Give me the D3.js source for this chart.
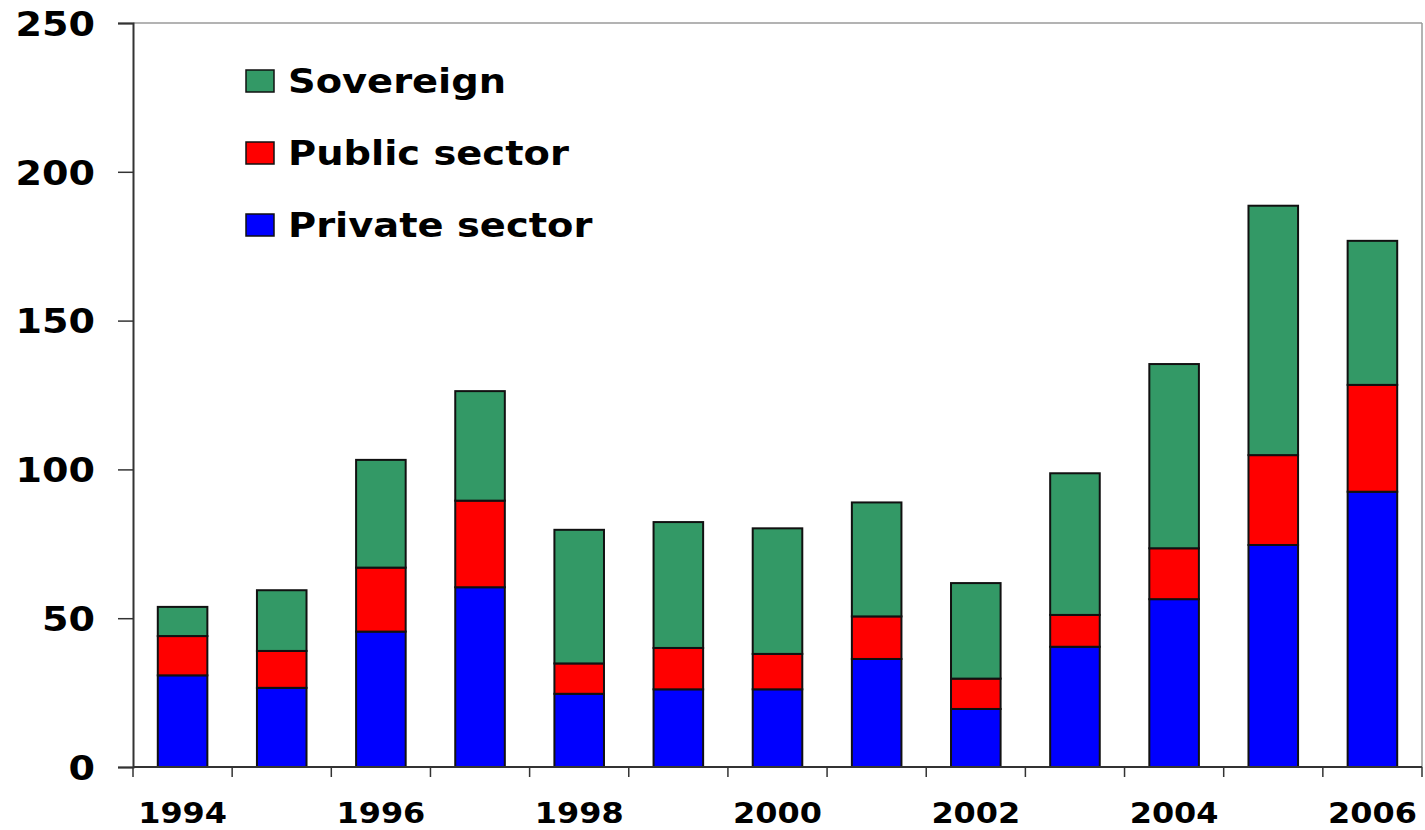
<!DOCTYPE html>
<html>
<head>
<meta charset="utf-8">
<script src="https://cdn.jsdelivr.net/npm/d3@7"></script>
<style>
  html, body { margin: 0; padding: 0; background: #fff; }
  svg { display: block; }
  text { font-family: "DejaVu Sans", Verdana, sans-serif; font-weight: bold; fill: #000; }
</style>
</head>
<body>
<svg id="chart" width="1425" height="830"></svg>
<script>
const years = ["1994","1995","1996","1997","1998","1999","2000","2001","2002","2003","2004","2005","2006"];
const privateSector = [30.8, 26.6, 45.5, 60.4, 24.6, 26.1, 26.1, 36.3, 19.5, 40.4, 56.4, 74.6, 92.5];
const publicSector  = [13.2, 12.4, 21.5, 29.1, 10.2, 13.9, 11.9, 14.3, 10.2, 10.7, 17.1, 30.2, 35.9];
const sovereign     = [ 9.8, 20.4, 36.2, 36.8, 44.9, 42.3, 42.2, 38.3, 32.1, 47.6, 61.9, 83.8, 48.4];
const seriesNames = ["Private sector", "Public sector", "Sovereign"];
const seriesColors = ["#0000FF", "#FF0000", "#339966"];
const yTicks = [0, 50, 100, 150, 200, 250];
const xLabelYears = ["1994","1996","1998","2000","2002","2004","2006"];

(function () {
const svg = d3.select("#chart");
const pLeft = 133, pRight = 1422, pTop = 23, pBottom = 767;
const stretch = 1.1;

const x = d3.scaleBand().domain(years).range([pLeft, pRight]).paddingInner(0.5).paddingOuter(0.25);
const y = d3.scaleLinear().domain([0, 250]).range([pBottom, pTop]);

const rows = years.map((yr, i) => ({
  year: yr,
  "Private sector": privateSector[i],
  "Public sector": publicSector[i],
  "Sovereign": sovereign[i]
}));
const stacked = d3.stack().keys(seriesNames)(rows);

// plot frame (light top/right border)
svg.append("line").attr("x1", pLeft).attr("x2", pRight).attr("y1", pTop).attr("y2", pTop)
  .attr("stroke", "#9a9a9a").attr("stroke-width", 1.5);
svg.append("line").attr("x1", pRight).attr("x2", pRight).attr("y1", pTop).attr("y2", pBottom)
  .attr("stroke", "#9a9a9a").attr("stroke-width", 1.5);

// bars
stacked.forEach((s, si) => {
  svg.append("g").selectAll("rect").data(s).join("rect")
    .attr("x", d => x(d.data.year))
    .attr("width", x.bandwidth())
    .attr("y", d => y(d[1]))
    .attr("height", d => y(d[0]) - y(d[1]))
    .attr("fill", seriesColors[si])
    .attr("stroke", "#111")
    .attr("stroke-width", 2);
});

// y axis
const yAxis = svg.append("g").attr("transform", `translate(${pLeft},0)`)
  .call(d3.axisLeft(y).tickValues(yTicks).tickSize(15).tickPadding(23).tickFormat(d3.format("d")));
yAxis.select(".domain").attr("stroke", "#333").attr("stroke-width", 2);
yAxis.selectAll(".tick line").attr("stroke", "#333").attr("stroke-width", 1.5);
yAxis.selectAll(".tick text")
  .attr("font-size", 34)
  .attr("dy", "0.36em")
  .each(function() {
    const t = d3.select(this);
    const tx = +t.attr("x");
    t.attr("x", null).attr("transform", `translate(${tx},0) scale(1.12,1)`);
  });

// x axis line
svg.append("line").attr("x1", pLeft).attr("x2", pRight).attr("y1", pBottom).attr("y2", pBottom)
  .attr("stroke", "#333").attr("stroke-width", 2);
// x ticks at band boundaries
const step = x.step();
const gap = (step - x.bandwidth()) / 2;
const boundaries = years.map(yr => x(yr) - gap).concat([x(years[years.length - 1]) + x.bandwidth() + gap]);
svg.append("g").selectAll("line").data(boundaries).join("line")
  .attr("x1", d => d).attr("x2", d => d)
  .attr("y1", pBottom).attr("y2", pBottom + 10)
  .attr("stroke", "#333").attr("stroke-width", 1.5);
// x labels
svg.append("g").selectAll("text").data(xLabelYears).join("text")
  .attr("text-anchor", "middle")
  .attr("font-size", 28)
  .attr("transform", d => `translate(${x(d) + x.bandwidth() / 2},823) scale(1.14,1)`)
  .text(d => d);

// legend
const legendItems = [
  { name: "Sovereign", color: seriesColors[2] },
  { name: "Public sector", color: seriesColors[1] },
  { name: "Private sector", color: seriesColors[0] }
];
const legendY = d3.scalePoint().domain(legendItems.map(d => d.name)).range([81, 225]);
const lg = svg.append("g");
lg.selectAll("rect").data(legendItems).join("rect")
  .attr("x", 246).attr("y", d => legendY(d.name) - 11)
  .attr("width", 28).attr("height", 22)
  .attr("fill", d => d.color).attr("stroke", "#111").attr("stroke-width", 1.5);
lg.selectAll("text").data(legendItems).join("text")
  .attr("font-size", 34)
  .attr("dy", "0.36em")
  .attr("transform", d => `translate(288,${legendY(d.name)}) scale(1.13,1)`)
  .text(d => d.name);
})();
</script>
</body>
</html>
